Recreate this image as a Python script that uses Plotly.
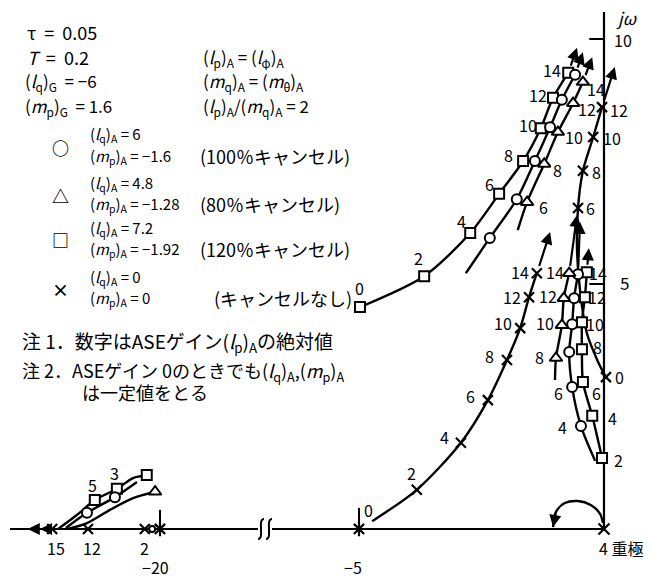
import plotly.graph_objects as go

# ---------------- root-locus data (real part, imaginary part, ASE gain) ----------------
# 120 % cancel (square), upper branch
sq_hi_re = [-4.98, -3.67, -2.73, -2.14, -1.65, -1.29, -1.04, -0.73]
sq_hi_im = [4.53, 5.16, 6.04, 6.84, 7.51, 8.18, 8.80, 9.31]
sq_hi_gain = [0, 2, 4, 6, 8, 10, 12, 14]
sq_hi_tip = (-0.55, 9.82)

# 100 % cancel (circle), upper branch
ci_hi_re = [-2.82, -2.33, -1.78, -1.41, -1.10, -0.86, -0.59]
ci_hi_im = [5.22, 5.94, 6.73, 7.51, 8.20, 8.76, 9.27]
ci_hi_gain = [2, 4, 6, 8, 10, 12, 14]
ci_hi_tip = (-0.43, 9.73)

# 80 % cancel (triangle), upper branch
tr_hi_re = [-1.76, -1.57, -1.22, -0.94, -0.63, -0.43]
tr_hi_im = [6.10, 6.67, 7.45, 8.10, 8.69, 9.12]
tr_hi_gain = [4, 6, 8, 10, 12, 14]
tr_hi_tip = (-0.24, 9.63)

# no cancel (cross), branch leaving the pole near the imaginary axis
xx_hi_re = [0.04, -0.12, -0.35, -0.49, -0.55, -0.53, -0.43, -0.22, -0.04]
xx_hi_im = [3.10, 3.41, 4.00, 4.88, 5.69, 6.55, 7.31, 8.00, 8.61]
xx_hi_gain = [0, None, None, None, None, 6, 8, 10, 12]
xx_hi_tip = (0.22, 9.43)

# no cancel (cross), branch leaving the pole at -5
xx_lf_re = [-4.73, -3.82, -2.92, -2.37, -1.98, -1.71, -1.53, -1.37]
xx_lf_im = [0.16, 0.80, 1.76, 2.63, 3.45, 4.10, 4.73, 5.22]
xx_lf_gain = [0, 2, 4, 6, 8, 10, 12, 14]
xx_lf_tip = (-1.10, 6.06)

# lower branches near the origin
sq_lo_re = [-0.04, -0.24, -0.43, -0.45, -0.45, -0.39, -0.35]
sq_lo_im = [1.45, 2.31, 3.00, 3.67, 4.22, 4.73, 5.24]
sq_lo_gain = [2, 4, 6, 8, 10, 12, 14]
sq_lo_tip = (-0.31, 5.73)

ci_lo_re = [-0.18, -0.47, -0.65, -0.71, -0.65, -0.61, -0.53]
ci_lo_im = [1.39, 2.10, 2.90, 3.61, 4.18, 4.71, 5.20]
ci_lo_gain = [2, 4, 6, 8, 10, 12, 14]
ci_lo_tip = (-0.49, 6.27)

tr_lo_re = [-1.00, -0.98, -0.86, -0.82, -0.71]
tr_lo_im = [3.04, 3.49, 4.16, 4.71, 5.22]
tr_lo_gain = [6, 8, 10, 12, 14]
tr_lo_tip = (-0.55, 6.41)

# branches near the pole at -20
sq_20_re = [-20.27, -20.55, -20.88, -21.33, -21.69, -22.08]
sq_20_im = [1.10, 1.04, 0.82, 0.59, 0.29, 0.00]
sq_20_gain = [1, None, 3, 5, None, None]

ci_20_re = [-20.47, -20.92, -21.49, -21.92]
ci_20_im = [0.96, 0.65, 0.33, 0.02]
ci_20_gain = [None, 3, 5, None]

tr_20_re = [-20.10, -20.55, -21.02, -21.49, -21.88]
tr_20_im = [0.76, 0.63, 0.39, 0.12, 0.00]
tr_20_gain = [1, None, None, None, None]

# no cancel on the real axis left of -20
xx_ax_re = [-20.31, -21.47, -22.20]
xx_ax_gain = [2, 12, 15]

# loop from the quadruple pole at the origin
loop_re = [-1.04, -0.98, -0.80, -0.53, -0.27, -0.08, -0.02]
loop_im = [0.04, 0.35, 0.53, 0.57, 0.49, 0.31, 0.12]

# poles
poles_re = [-5.0]
poles20_re = [-20.0]
origin_re = [0.0]

# axis ticks on jω
jw_ticks = [5, 10]

# ---------------- layout geometry ----------------
W, H = 660, 580
BREAK_PX = 265
LEFT_RANGE = [-23.265, -17.857]
RIGHT_RANGE = [-6.918, 1.143]
Y_RANGE = [-1.041, 10.796]
FONT = "Noto Sans CJK JP"
INK = "black"

fig = go.Figure()


def px(xp, yp):
    return xp / W, 1 - yp / H


def path_trace(re, im, xa, width=2.4, shape="spline"):
    fig.add_trace(go.Scatter(x=re, y=im, xaxis=xa, yaxis="y", mode="lines",
                             line=dict(color=INK, width=width, shape=shape, smoothing=0.8),
                             hoverinfo="skip", showlegend=False))


def mark_trace(re, im, xa, symbol, size=10):
    if symbol in ("x-thin", "asterisk"):
        marker = dict(symbol=symbol + "-open", size=size, color=INK,
                      line=dict(color=INK, width=2.2))
    else:
        marker = dict(symbol=symbol, size=size, color="white",
                      line=dict(color=INK, width=2))
    fig.add_trace(go.Scatter(x=re, y=im, xaxis=xa, yaxis="y", mode="markers",
                             marker=marker, hoverinfo="skip", showlegend=False))


annotations = []


def gain_label(re, im, xa, text, dx, dy, size=16):
    annotations.append(dict(x=re, y=im, xref=xa, yref="y", text=text, showarrow=False,
                            xshift=dx, yshift=-dy, font=dict(family=FONT, size=size, color=INK)))


def arrow(tail, tip, xa, standoff=6):
    annotations.append(dict(x=tip[0], y=tip[1], ax=tail[0], ay=tail[1], xref=xa, yref="y",
                            axref=xa, ayref="y", text="", showarrow=True, arrowhead=2,
                            arrowsize=1.1, arrowwidth=2.2, arrowcolor=INK,
                            startstandoff=standoff))


def branch(re, im, gains, xa, symbol, labels, bare=(), tip=None):
    path_trace(re, im, xa)
    mr = [r for r, g in zip(re, gains) if g is not None and g not in bare]
    mi = [i for i, g in zip(im, gains) if g is not None and g not in bare]
    mark_trace(mr, mi, xa, symbol, size=11 if symbol == "triangle-up" else 10)
    for r, i, g in zip(re, im, gains):
        if g in labels:
            dx, dy = labels[g]
            gain_label(r, i, xa, str(g), dx, dy)
    if tip is not None:
        arrow((re[-1], im[-1]), tip, xa)


# ---------------- axes drawn as lines ----------------
left_axis_re = [LEFT_RANGE[0] + 10 / 49, -20 + (258 - 160) / 49]
right_axis_re = [RIGHT_RANGE[0] + 7 / 49, 0.0]
path_trace(left_axis_re, [0, 0], "x", width=2.2, shape="linear")
path_trace(right_axis_re, [0, 0], "x2", width=2.2, shape="linear")
path_trace([0, 0], [0, 10.55], "x2", width=2.2, shape="linear")
for t in jw_ticks:
    path_trace([-0.3, 0], [t, t], "x2", width=2, shape="linear")
# short ticks above the poles at -5 and -20
path_trace([poles_re[0], poles_re[0]], [0, 0.43], "x2", width=2, shape="linear")
path_trace([poles20_re[0], poles20_re[0]], [0, 0.39], "x", width=2, shape="linear")

# ---------------- loci on the main (right) axis ----------------
branch(sq_hi_re, sq_hi_im, sq_hi_gain, "x2", "square",
       {0: (0, -19), 2: (-6, -18), 4: (-9, -12), 6: (-10, -10), 8: (-15, -6),
        10: (-13, -3), 12: (-15, -3), 14: (-16, -3)}, tip=sq_hi_tip)
branch(ci_hi_re, ci_hi_im, ci_hi_gain, "x2", "circle", {}, bare={2}, tip=ci_hi_tip)
branch(tr_hi_re, tr_hi_im, tr_hi_gain, "x2", "triangle-up",
       {6: (16, 5), 8: (13, 6), 10: (16, 5), 12: (14, 6), 14: (13, 7)}, bare={4}, tip=tr_hi_tip)
branch(xx_hi_re, xx_hi_im, xx_hi_gain, "x2", "x-thin",
       {0: (14, 0), 6: (12, 0), 8: (14, 1), 10: (19, 1), 12: (17, 3)}, tip=xx_hi_tip)
branch(xx_lf_re, xx_lf_im, xx_lf_gain, "x2", "x-thin",
       {0: (-4, -11), 2: (-5, -17), 4: (-16, -6), 6: (-17, -4), 8: (-17, -4),
        10: (-17, -5), 12: (-17, 0), 14: (-17, -1)}, bare={0}, tip=xx_lf_tip)
branch(sq_lo_re, sq_lo_im, sq_lo_gain, "x2", "square",
       {2: (16, 2), 4: (20, 2), 6: (14, 11), 8: (16, -2), 10: (13, 2), 12: (12, 0), 14: (11, 1)},
       tip=sq_lo_tip)
branch(ci_lo_re, ci_lo_im, ci_lo_gain, "x2", "circle",
       {4: (-18, 1), 6: (-14, 6)}, bare={2}, tip=ci_lo_tip)
branch(tr_lo_re, tr_lo_im, tr_lo_gain, "x2", "triangle-up",
       {8: (-16, -1), 10: (-17, -2), 12: (-16, -2), 14: (-14, -1)}, bare={6}, tip=tr_lo_tip)

# loop from the origin back to the real axis
path_trace(loop_re, loop_im, "x2", width=2.4)
arrow((loop_re[1], loop_im[1]), (loop_re[0], loop_im[0]), "x2", standoff=0)

# poles
mark_trace(poles_re, [0], "x2", "asterisk", size=12)
mark_trace(origin_re, [0], "x2", "x-thin", size=11)

# ---------------- loci near -20 (left axis) ----------------
branch(sq_20_re, sq_20_im, sq_20_gain, "x", "square", {3: (-2, -16), 5: (-2, -15)})
branch(ci_20_re, ci_20_im, ci_20_gain, "x", "circle", {})
branch(tr_20_re, tr_20_im, tr_20_gain, "x", "triangle-up", {})
mark_trace(xx_ax_re, [0] * len(xx_ax_re), "x", "x-thin", size=10)
for r, g in zip(xx_ax_re, xx_ax_gain):
    gain_label(r, 0, "x", str(g), 4 if g != 2 else 0, 19)
mark_trace(poles20_re, [0], "x", "asterisk", size=12)
mark_trace([-20.16], [0], "x", "circle", size=6)
# arrowheads on the real axis running off to the left
arrow((-22.30, 0), (-22.45, 0), "x", standoff=0)
arrow((-22.55, 0), (-22.70, 0), "x", standoff=0)

# ---------------- axis break mark ----------------
for x0 in (258, 266):
    a, b = px(x0, 539)
    c, d = px(x0 + 6, 519)
    fig.add_shape(type="path", xref="paper", yref="paper",
                  path=f"M {a},{b} C {a + 7 / W},{b} {c - 7 / W},{d} {c},{d}",
                  line=dict(color=INK, width=2))


# ---------------- text blocks ----------------
def text(t, xp, yp, size=17, anchor="left", weight="normal"):
    x, y = px(xp, yp)
    annotations.append(dict(x=x, y=y, xref="paper", yref="paper", text=t, showarrow=False,
                            xanchor=anchor, yanchor="middle",
                            font=dict(family=FONT, size=size, color=INK, weight=weight)))


lq = "(<i>l</i><sub>q</sub>)"
mp = "(<i>m</i><sub>p</sub>)"
text("τ  =  0.05", 25, 32, size=18)
text("<i>T</i>  =  0.2", 25, 57, size=18)
text(lq + "<sub>G</sub>  = −6", 23, 81, size=17)
text(mp + "<sub>G</sub>  = 1.6", 23, 106, size=17)
text("(<i>l</i><sub>p</sub>)<sub>A</sub> = (<i>l</i><sub>φ</sub>)<sub>A</sub>", 201, 57, size=17)
text("(<i>m</i><sub>q</sub>)<sub>A</sub> = (<i>m</i><sub>θ</sub>)<sub>A</sub>", 201, 81, size=17)
text("(<i>l</i><sub>p</sub>)<sub>A</sub>/(<i>m</i><sub>q</sub>)<sub>A</sub> = 2", 201, 106, size=17)

legend_rows = [
    ("○", "6", "−1.6", "(100％キャンセル)", 139),
    ("△", "4.8", "−1.28", "(80％キャンセル)", 187),
    ("□", "7.2", "−1.92", "(120％キャンセル)", 232),
    ("×", "0", "0", "(キャンセルなし)", 281),
]
for sym, lqv, mpv, note, yp in legend_rows:
    text(sym, 60, yp + 8, size=17, anchor="center", weight="bold")
    text(lq + "<sub>A</sub> = " + lqv, 88, yp - 4, size=15)
    text(mp + "<sub>A</sub> = " + mpv, 88, yp + 17, size=15)
    text(note, 198 if sym != "×" else 212, yp + 17, size=18)

text("注 1．数字はASEゲイン(<i>l</i><sub>p</sub>)<sub>A</sub>の絶対値", 20, 342, size=19)
text("注 2．ASEゲイン 0のときでも" + lq + "<sub>A</sub>," + mp + "<sub>A</sub>", 20, 371, size=18)
text("は一定値をとる", 80, 392, size=18)

text("<i>jω</i>", 626, 18, size=17, anchor="center")
text("10", 623, 40, size=16, anchor="center")
text("5", 624, 282, size=17, anchor="center")
text("−5", 353, 567, size=16, anchor="center")
text("−20", 155, 567, size=16, anchor="center")
text("4 重極", 597, 548, size=16)

fig.update_layout(
    width=W, height=H,
    margin=dict(l=0, r=0, t=0, b=0),
    paper_bgcolor="white", plot_bgcolor="white",
    showlegend=False,
    annotations=annotations,
    xaxis=dict(domain=[0, BREAK_PX / W], range=LEFT_RANGE, visible=False, fixedrange=True),
    xaxis2=dict(domain=[BREAK_PX / W, 1], range=RIGHT_RANGE, visible=False, fixedrange=True,
                anchor="y"),
    yaxis=dict(domain=[0, 1], range=Y_RANGE, visible=False, fixedrange=True),
)

fig.write_html("out.html")
